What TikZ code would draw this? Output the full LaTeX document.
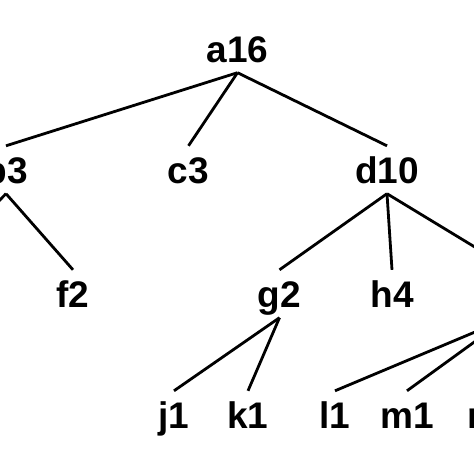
\documentclass[tikz,border=0pt]{standalone}
\usepackage{fontspec}
\setmainfont{Liberation Sans}
\begin{document}
\begin{tikzpicture}[x=1pt,y=-1pt,
  lab/.style={anchor=base,font=\fontsize{37}{40}\selectfont\bfseries,
    text height=26.5pt,text depth=0pt,inner xsep=2pt,inner ysep=10.5pt},
  edge/.style={line width=2.8pt,black}]
\useasboundingbox (0,0) rectangle (474,474);
\clip (0,0) rectangle (474,474);
\fill[white] (0,0) rectangle (474,474);
\node[lab] (a) at (237.5,62) {a16};
\node[lab] (b) at (6,183) {b3};
\node[lab] (c) at (188.5,183) {c3};
\node[lab] (d) at (387,183) {d10};
\node[lab] (f) at (73,307) {f2};
\node[lab] (g) at (279.5,307) {g2};
\node[lab] (h) at (392,307) {h4};
\node[lab] (j) at (174,428) {j1};
\node[lab] (k) at (248,428) {k1};
\node[lab] (l) at (335,428) {l1};
\node[lab] (m) at (407,428) {m1};
\node[lab] (n) at (489,428) {n1};
\coordinate (e) at (-66,267);
\coordinate (itop) at (511,269);
\coordinate (ibot) at (506,319);
\draw[edge] (a.south) -- (b.north);
\draw[edge] (a.south) -- (c.north);
\draw[edge] (a.south) -- (d.north);
\draw[edge] (b.south) -- (e);
\draw[edge] (b.south) -- (f.north);
\draw[edge] (d.south) -- (g.north);
\draw[edge] (d.south) -- (h.north);
\draw[edge] (d.south) -- (itop);
\draw[edge] (g.south) -- (j.north);
\draw[edge] (g.south) -- (k.north);
\draw[edge] (ibot) -- (l.north);
\draw[edge] (ibot) -- (m.north);
\draw[edge] (ibot) -- (n.north);
\end{tikzpicture}
\end{document}
